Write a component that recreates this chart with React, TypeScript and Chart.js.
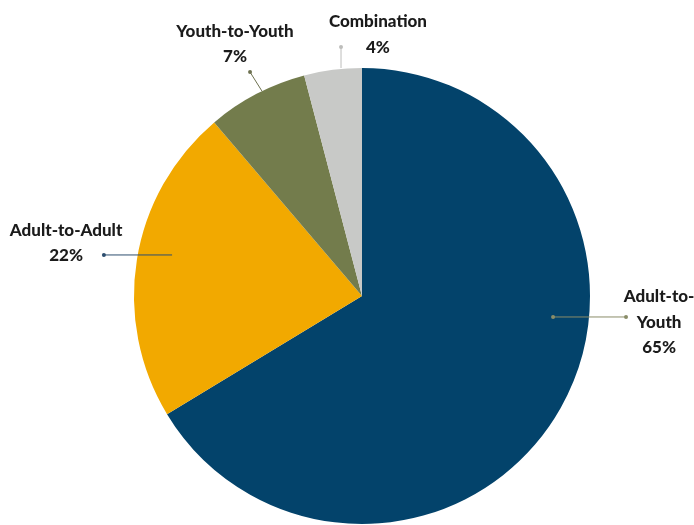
import React, { useEffect, useRef } from "react";
import { Chart, registerables } from "chart.js";

Chart.register(...registerables);

const categories = ["Adult-to-Youth", "Adult-to-Adult", "Youth-to-Youth", "Combination"];
const values = [65, 22, 7, 4];
const sliceColors = ["#03436b", "#f2a900", "#737c4c", "#c8c9c7"];
const labelLines = [["Adult-to-", "Youth"], ["Adult-to-Adult"], ["Youth-to-Youth"], ["Combination"]];
const leaderColors = ["#8a8d68", "#2c4d6e", "#6d7150", "#bdbdbb"];

// label layout, in units of pie radius from the pie centre
const labelLayout = [
  { tx: 1.303, ty: 0.004, dot: [0.838, 0.092], end: [1.158, 0.092], bothDots: true },
  { tx: -1.298, ty: -0.289, dot: [-1.132, -0.18], end: [-0.833, -0.18], bothDots: false },
  { tx: -0.557, ty: -1.162, dot: [-0.491, -0.982], end: [-0.439, -0.899], bothDots: false },
  { tx: 0.07, ty: -1.202, dot: [-0.092, -1.092], end: [-0.092, -1.0], bothDots: false },
];

const labelPlugin = {
  id: "pieLabels",
  afterDatasetsDraw(chart: any) {
    const meta = chart.getDatasetMeta(0);
    const arc0 = meta.data[0];
    if (!arc0) return;
    const cx = arc0.x;
    const cy = arc0.y;
    const r = arc0.outerRadius;
    const ctx = chart.ctx;
    ctx.save();
    categories.forEach((_, i) => {
      const L = labelLayout[i];
      const x1 = cx + L.dot[0] * r;
      const y1 = cy + L.dot[1] * r;
      const x2 = cx + L.end[0] * r;
      const y2 = cy + L.end[1] * r;
      ctx.strokeStyle = leaderColors[i];
      ctx.fillStyle = leaderColors[i];
      ctx.lineWidth = 1;
      ctx.beginPath();
      ctx.moveTo(x1, y1);
      ctx.lineTo(x2, y2);
      ctx.stroke();
      ctx.beginPath();
      ctx.arc(x1, y1, 2, 0, Math.PI * 2);
      ctx.fill();
      if (L.bothDots) {
        ctx.beginPath();
        ctx.arc(x2, y2, 2, 0, Math.PI * 2);
        ctx.fill();
      }
      const lines = [...labelLines[i], values[i] + "%"];
      ctx.fillStyle = "#1b1b1b";
      ctx.font = "900 17px Lato";
      ctx.textAlign = "center";
      ctx.textBaseline = "middle";
      const tx = cx + L.tx * r;
      const ty = cy + L.ty * r;
      lines.forEach((t, k) => {
        ctx.fillText(t, tx, ty + k * 25.5);
      });
    });
    ctx.restore();
  },
};

export default function App() {
  const ref = useRef<HTMLCanvasElement>(null);
  useEffect(() => {
    if (!ref.current) return;
    const chart = new Chart(ref.current, {
      type: "pie",
      data: {
        labels: categories,
        datasets: [
          {
            data: values,
            backgroundColor: sliceColors,
            borderWidth: 0,
            hoverOffset: 0,
          },
        ],
      },
      options: {
        responsive: false,
        animation: false,
        layout: { padding: { left: 134, right: 104, top: 68, bottom: 6 } },
        plugins: { legend: { display: false }, tooltip: { enabled: false } },
      },
      plugins: [labelPlugin],
    });
    return () => chart.destroy();
  }, []);
  return (
    <div style={{ position: "absolute", left: 0, top: 0, width: 694, height: 525, overflow: "hidden", background: "#fff" }}>
      <canvas ref={ref} width={694} height={530} style={{ display: "block", width: 694, height: 530 }} />
    </div>
  );
}
